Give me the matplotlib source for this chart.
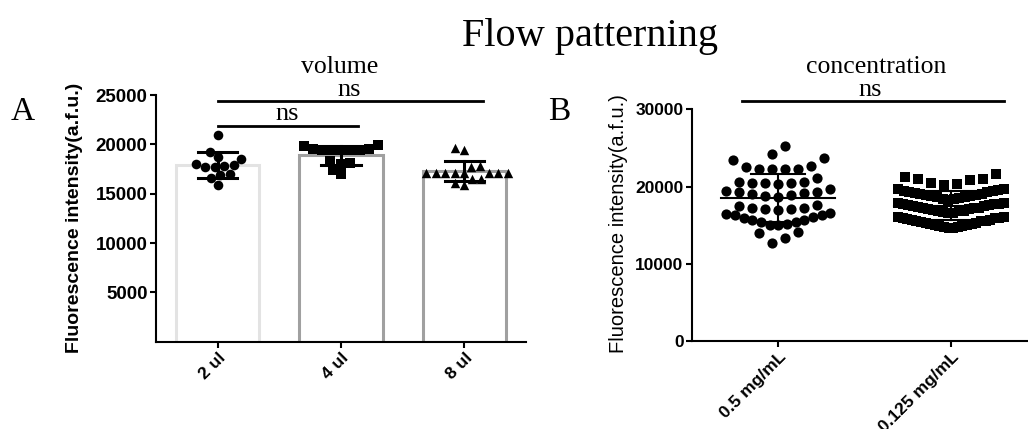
import numpy as np
import matplotlib
matplotlib.use("Agg")
import matplotlib.pyplot as plt

# ---- data ----
vol_labels = ["2 ul", "4 ul", "8 ul"]
vol_2ul = [20950, 19250, 18700, 18500, 18000, 17900, 17700, 17800, 17700,
           17000, 16900, 16600, 15900]
vol_4ul = [19940, 19530, 19430, 19450, 19420, 19440, 19430, 19530, 19870,
           18320, 17980, 16970, 17400, 18080]
vol_8ul = [19430, 19600, 17800, 17750, 17070, 17080, 17060, 17070, 17090,
           17070, 17050, 17080, 16470, 16480, 15900, 16060]

conc_labels = ["0.5 mg/mL", "0.125 mg/mL"]
conc_05 = [25270, 24240, 23460, 23680,
           22280, 22520, 22330, 22300, 22310, 22640,
           20400, 20650, 20440, 20500, 20450, 20600, 21080,
           19500, 19300, 19100, 18800, 18700, 18900, 19200, 19350, 19700,
           17600, 17300, 17100, 17000, 17150, 17200, 17500,
           16500, 16300, 16000, 15700, 15400, 15100, 15000, 15150, 15450,
           15750, 16050, 16350, 16550,
           13970, 14190, 13380, 12770]
conc_0125 = [14650, 14700, 14750, 14800, 14900, 14950, 15000, 15100, 15150,
             15200, 15300, 15350, 15400, 15500, 15550, 15600, 15700, 15750,
             15800, 15900, 15950, 16000, 16050, 16100,
             16600, 16650, 16700, 16800, 16850, 16900, 17000, 17050, 17100,
             17200, 17250, 17300, 17400, 17450, 17500, 17600, 17650, 17700,
             17750, 17800, 17850, 17900,
             18300, 18350, 18450, 18500, 18600, 18650, 18750, 18800, 18900,
             18950, 19050, 19100, 19200, 19250, 19350, 19400, 19500, 19550,
             19650, 19700,
             20150, 20300, 20450, 20800, 20950, 21050, 21300, 21600]

W, H = 1028, 429
serif = "Liberation Serif"
sans = "Liberation Sans"


def swarm_x(ax, xc, vals, d):
    # simple beeswarm in pixel space, lowest values placed first
    pts = ax.transData.transform(np.column_stack([np.full(len(vals), xc), vals]))
    ys = pts[:, 1]
    offs = np.zeros(len(vals))
    placed = []
    for i in np.argsort(ys, kind="stable"):
        y = ys[i]
        near = [(px, py) for px, py in placed if abs(py - y) < d]
        cands = [0.0]
        for px, py in near:
            dx = np.sqrt(d ** 2 - (py - y) ** 2)
            cands += [px - dx, px + dx]
        cands.sort(key=abs)
        best = cands[-1]
        for c in cands:
            if all((c - px) ** 2 + (y - py) ** 2 >= d ** 2 - 1e-6 for px, py in near):
                best = c
                break
        placed.append((best, y))
        offs[i] = best
    back = ax.transData.inverted().transform(np.column_stack([pts[:, 0] + offs, ys]))
    return back[:, 0]


def rows_x(ax, xc, vals, h, s0, maxw):
    # prism-like scatter: values binned in rows, lowest in the middle of each row
    vals = np.asarray(vals, float)
    order = np.argsort(vals, kind="stable")
    ppu = ax.transData.transform((1, 0))[0] - ax.transData.transform((0, 0))[0]
    offs = np.zeros(len(vals))
    i = 0
    while i < len(order):
        start = vals[order[i]]
        j = i
        while j < len(order) and vals[order[j]] < start + h:
            j += 1
        idx = order[i:j]
        n = len(idx)
        s = s0 if n < 2 else min(s0, maxw / (n - 1))
        slots = sorted((np.arange(n) - (n - 1) / 2) * s, key=lambda v: (abs(v), v))
        for k, ind in enumerate(idx):
            offs[ind] = slots[k]
        i = j
    return xc + offs / ppu


def style_axis(ax, tsize):
    for s in ["top", "right"]:
        ax.spines[s].set_visible(False)
    for s in ["left", "bottom"]:
        ax.spines[s].set_linewidth(1.5)
    ax.tick_params(width=1.5, length=4, pad=2)
    for lab in ax.get_yticklabels():
        lab.set_fontfamily(sans)
        lab.set_fontweight("bold")
        lab.set_fontsize(tsize)


fig = plt.figure(figsize=(W / 100, H / 100), dpi=100)

# ---- panel A ----
axA = fig.add_axes([156 / W, 1 - 341.7 / H, 370 / W, 246.7 / H])
axA.set_xlim(-0.5, 2.5)
axA.set_ylim(0, 25000)
axA.set_yticks([5000, 10000, 15000, 20000, 25000])
axA.set_xticks(range(3))
axA.set_xticklabels(vol_labels, rotation=45, ha="right", rotation_mode="anchor",
                    fontfamily=sans, fontweight="bold", fontsize=12.5)
style_axis(axA, 13.5)

groupsA = [vol_2ul, vol_4ul, vol_8ul]
edgesA = ["#e3e3e3", "#a0a0a0", "#a0a0a0"]
markersA = ["o", "s", "^"]
sizesA = [48, 44, 46]
for i, vals in enumerate(groupsA):
    m = np.mean(vals)
    sd = np.std(vals, ddof=1)
    axA.bar(i, m, width=0.675, color="white", edgecolor=edgesA[i], linewidth=2.2, zorder=1)
    xs = swarm_x(axA, i, vals, 9.5)
    axA.scatter(xs, vals, marker=markersA[i], s=sizesA[i], color="black",
                linewidths=0, zorder=3)
    axA.plot([i, i], [m - sd, m + sd], color="black", lw=2.2, zorder=4)
    for yv in (m - sd, m + sd):
        axA.plot([i - 0.16, i + 0.16], [yv, yv], color="black", lw=2.2, zorder=4)

# significance bars (x0, x1, y, label x)
sigA = [(0.0, 2.15, 24390, 1.07), (0.0, 1.14, 21890, 0.56)]
for x0, x1, yv, xt in sigA:
    axA.plot([x0, x1], [yv, yv], color="black", lw=2, clip_on=False, zorder=5)
    axA.text(xt, yv + 550, "ns", ha="center", va="baseline", fontfamily=serif,
             fontsize=19, clip_on=False)

fig.text(75 / W, 1 - 218 / H, "Fluorescence intensity(a.f.u.)", rotation=90,
         ha="center", va="center", fontfamily=sans, fontweight="bold", fontsize=14)

# ---- panel B ----
axB = fig.add_axes([691.9 / W, 1 - 341.3 / H, 345.4 / W, 232 / H])
axB.set_xlim(-0.5, 1.5)
axB.set_ylim(0, 30000)
axB.set_yticks([0, 10000, 20000, 30000])
axB.set_xticks(range(2))
axB.set_xticklabels(conc_labels, rotation=45, ha="right", rotation_mode="anchor",
                    fontfamily=sans, fontweight="bold", fontsize=12.5)
style_axis(axB, 12.5)

groupsB = [conc_05, conc_0125]
markersB = ["o", "s"]
sizesB = [54, 50]
rowhB = [1650, 1500]
maxwB = [104, 106]
for i, vals in enumerate(groupsB):
    m = np.mean(vals)
    sd = np.std(vals, ddof=1)
    xs = rows_x(axB, i, vals, rowhB[i], 13, maxwB[i])
    axB.scatter(xs, vals, marker=markersB[i], s=sizesB[i], color="black",
                linewidths=0, zorder=3)
    axB.plot([i - 0.33, i + 0.33], [m, m], color="black", lw=1.5, zorder=4)
    axB.plot([i, i], [m - sd, m + sd], color="black", lw=1.5, zorder=4)
    for yv in (m - sd, m + sd):
        axB.plot([i - 0.155, i + 0.155], [yv, yv], color="black", lw=1.5, zorder=4)

axB.plot([-0.21, 1.307], [31090, 31090], color="black", lw=2, clip_on=False, zorder=5)
axB.text(0.53, 31090 + 650, "ns", ha="center", va="baseline", fontfamily=serif,
         fontsize=19, clip_on=False)

fig.text(619 / W, 1 - 224 / H, "Fluorescence intensity(a.f.u.)", rotation=90,
         ha="center", va="center", fontfamily=sans, fontsize=14.5)

# ---- titles and panel letters ----
fig.text(590 / W, 1 - 46 / H, "Flow patterning", ha="center", va="baseline",
         fontfamily=serif, fontsize=29)
fig.text(340 / W, 1 - 73 / H, "volume", ha="center", va="baseline",
         fontfamily=serif, fontsize=18.5)
fig.text(876 / W, 1 - 73 / H, "concentration", ha="center", va="baseline",
         fontfamily=serif, fontsize=18.5)
fig.text(23 / W, 1 - 120 / H, "A", ha="center", va="baseline", fontfamily=serif, fontsize=24)
fig.text(559 / W, 1 - 120 / H, "B", ha="center", va="baseline", fontfamily=serif, fontsize=24)

fig.savefig("out.png", dpi=100)
